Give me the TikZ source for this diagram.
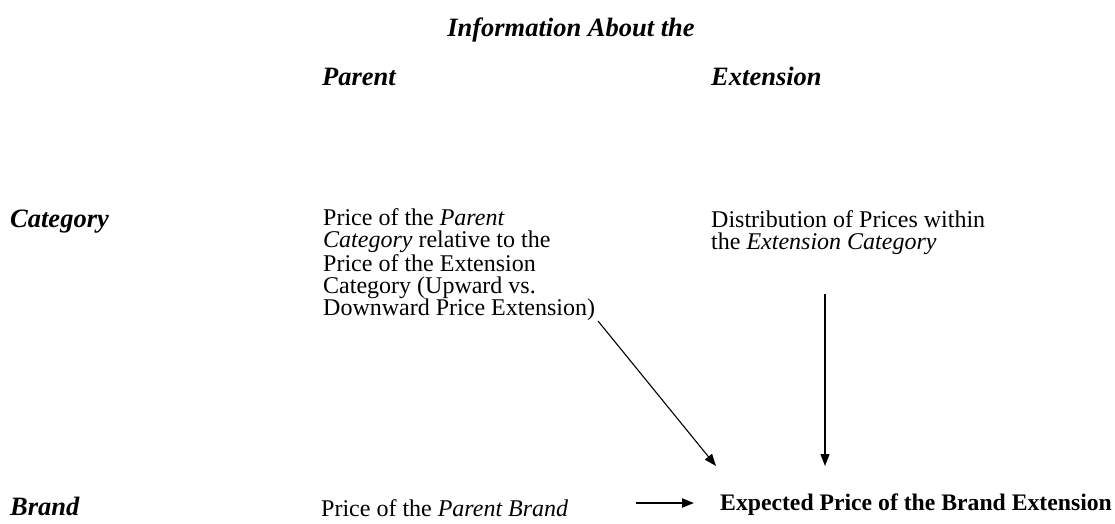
\documentclass[tikz,border=0pt]{standalone}
\usepackage{fontspec}
\setmainfont{Liberation Serif}
\usetikzlibrary{arrows.meta}
\begin{document}
\begin{tikzpicture}[x=1pt,y=-1pt,
  head/.style={font=\fontsize{26.5}{30}\selectfont\bfseries\itshape, inner sep=0pt, anchor=base west},
  body/.style={font=\fontsize{24}{22}\selectfont, inner sep=0pt, align=left, anchor=base west},
  conn/.style={line width=1.1pt, -{Triangle[length=12pt,width=9pt]}}]
\useasboundingbox (0,0) rectangle (1115,524);
\node[head, anchor=base] (info) at (571,37) {Information About the};
\node[head] (parent) at (322,86) {Parent};
\node[head] (ext) at (711,86) {Extension};
\node[head] (cat) at (10,227) {Category};
\node[head] (brand) at (10,515) {Brand};
\node[body] (pc) at (323,315) {Price of the \textit{Parent}\\
\textit{Category} relative to the\\
Price of the Extension\\
Category (Upward vs.\\
Downward Price Extension)};
\node[body] (ec) at (711,249) {Distribution of Prices within\\
the \textit{Extension Category}};
\node[body] (pb) at (321,516) {Price of the \textit{Parent Brand}};
\node[font=\fontsize{23.7}{26}\selectfont\bfseries, inner sep=0pt, anchor=base west] (exp) at (720,510) {Expected Price of the Brand Extension};
\coordinate (a1s) at (598,321);
\coordinate (a1e) at (716,466);
\coordinate (a2s) at (825,294);
\coordinate (a2e) at (825,466);
\coordinate (a3s) at (636,503);
\coordinate (a3e) at (694,503);
\draw[conn] (a1s) -- (a1e);
\draw[conn] (a2s) -- (a2e);
\draw[conn, line width=1.8pt] (a3s) -- (a3e);
\end{tikzpicture}
\end{document}
